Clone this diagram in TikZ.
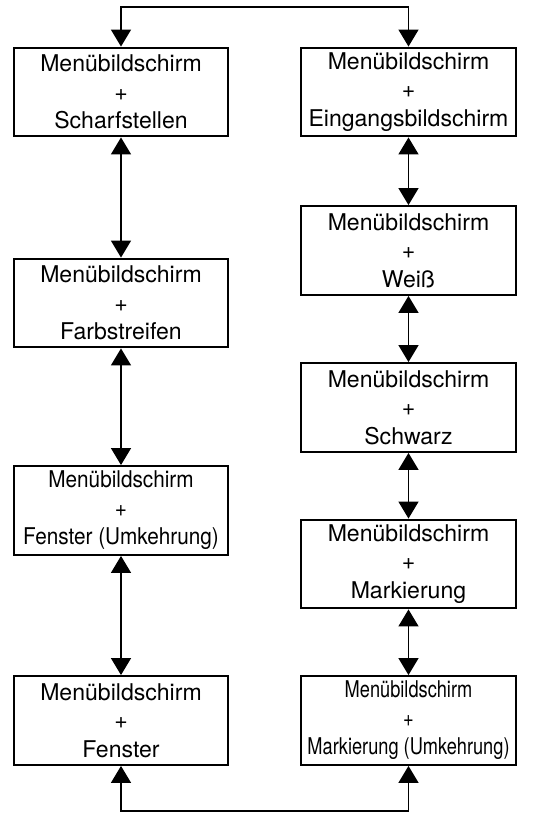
\documentclass[tikz,border=0pt]{standalone}
\usepackage{fontspec}
\setmainfont{TeX Gyre Heros}
\newfontfamily\narrowfont[FakeStretch=0.9]{TeX Gyre Heros}
\newfontfamily\narrowerfont[FakeStretch=0.79]{TeX Gyre Heros}
\usetikzlibrary{arrows.meta, positioning}

\begin{document}
\begin{tikzpicture}[x=0.025cm, y=-0.025cm,
		menubox/.style={draw, line width=1.4pt, minimum width=5.35cm, minimum height=2.22cm, inner sep=0pt, align=center, font=\fontsize{16.4}{20.3}\selectfont},
		link/.style={line width=1.4pt, {Triangle[width=14pt,length=12pt]}-{Triangle[width=14pt,length=12pt]}}]
	\useasboundingbox (0,0) rectangle (540,814);
	% left column
	\node[menubox] (nScharf) at (121,92) {Menübildschirm\\+\\Scharfstellen};
	\node[menubox] (nFarb) at (121,303) {Menübildschirm\\+\\Farbstreifen};
	\node[menubox, font=\fontsize{16.4}{20.3}\narrowfont] (nFensterU) at (121,510.5) {Menübildschirm\\+\\Fenster (Umkehrung)};
	\node[menubox] (nFenster) at (121,720.5) {Menübildschirm\\+\\Fenster};
	% right column
	\node[menubox] (nEingang) at (408.5,92) {Menübildschirm\\+\\Eingangsbildschirm};
	\node[menubox] (nWeiss) at (408.5,250.5) {Menübildschirm\\+\\Weiß};
	\node[menubox] (nSchwarz) at (408.5,407.5) {Menübildschirm\\+\\Schwarz};
	\node[menubox] (nMark) at (408.5,564) {Menübildschirm\\+\\Markierung};
	\node[menubox, font=\fontsize{16.4}{20.3}\narrowerfont] (nMarkU) at (408.5,720.5) {Menübildschirm\\+\\Markierung (Umkehrung)};
	% connectors
	\draw[link] (nScharf) -- (nFarb);
	\draw[link] (nFarb) -- (nFensterU);
	\draw[link] (nFensterU) -- (nFenster);
	\draw[link] (nEingang) -- (nWeiss);
	\draw[link] (nWeiss) -- (nSchwarz);
	\draw[link] (nSchwarz) -- (nMark);
	\draw[link] (nMark) -- (nMarkU);
	\coordinate (topMid) at (264,7);
	\coordinate (botMid) at (264,811);
	\draw[link] (nScharf.north) |- (topMid) -| (nEingang.north);
	\draw[link] (nFenster.south) |- (botMid) -| (nMarkU.south);
\end{tikzpicture}
\end{document}
